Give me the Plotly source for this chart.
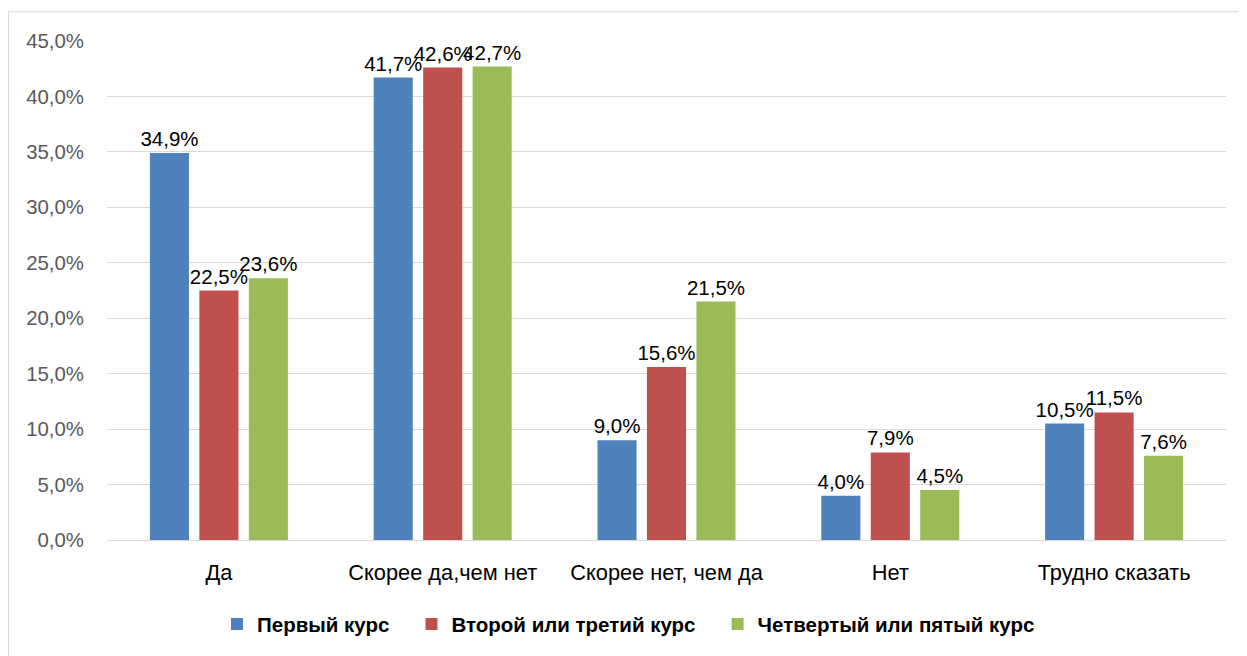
import plotly.graph_objects as go

categories = ["Да", "Скорее да,чем нет", "Скорее нет, чем да", "Нет", "Трудно сказать"]
series_names = ["Первый курс", "Второй или третий курс", "Четвертый или пятый курс"]
first_course = [34.9, 41.7, 9.0, 4.0, 10.5]
second_third = [22.5, 42.6, 15.6, 7.9, 11.5]
fourth_fifth = [23.6, 42.7, 21.5, 4.5, 7.6]
colors = ["#4F81BD", "#C0504D", "#9BBB59"]
y_ticks = [0, 5, 10, 15, 20, 25, 30, 35, 40, 45]

PAD = "\u00a0\u00a0\u00a0"  # spacing after legend entries

fig = go.Figure()
for name, vals, col in zip(series_names, [first_course, second_third, fourth_fifth], colors):
    fig.add_trace(go.Bar(
        x=categories, y=vals, name=name + PAD, marker_color=col, marker_line_width=0,
        text=[f"{v:.1f}%".replace(".", ",") for v in vals],
        textposition="outside", constraintext="none", cliponaxis=False,
        textfont=dict(family="Liberation Sans, Arial", size=20.5, color="#000000"),
    ))

# page has an 8px body margin; work in reference pixel coords minus 8
OFF = 8
W, H = 1247 - OFF, 656 - OFF
L = 107 - OFF
T = 41 - OFF
R = W - (1226 - OFF)
B = H - (542 - OFF) - 3
pw = W - L - R
ph = H - T - B

def px_x(p):
    return (p - OFF - L) / pw

def px_y(p):
    return (H - B - (p - OFF)) / ph

fig.add_shape(type="rect", xref="paper", yref="paper",
              x0=px_x(8.5), x1=px_x(1300), y0=px_y(700), y1=px_y(11.5),
              line=dict(color="#D9D9D9", width=1), fillcolor="rgba(0,0,0,0)", layer="below")

fig.update_layout(
    width=W, height=H,
    margin=dict(l=L, r=R, t=T, b=B),
    paper_bgcolor="white", plot_bgcolor="white",
    barmode="group", bargap=0.337, bargroupgap=0.21,
    separators=", ",
    showlegend=True,
    legend=dict(orientation="h", x=px_x(217), xanchor="left", y=px_y(630), yanchor="middle",
                font=dict(family="Liberation Sans", size=20.5, color="#000000", weight="bold"),
                itemsizing="constant"),
    font=dict(family="Liberation Sans, Arial", color="#595959"),
    xaxis=dict(showgrid=False, showline=False, ticks="", zeroline=False,
               tickfont=dict(family="Liberation Sans, Arial", size=21.8, color="#000000"),
               ticklabelstandoff=17),
    yaxis=dict(range=[0, 45], tickvals=y_ticks, ticktext=[f"{v:.1f}%".replace(".", ",") for v in y_ticks],
               showgrid=True, gridcolor="#D9D9D9", gridwidth=1.3, zeroline=True, zerolinecolor="#D9D9D9",
               zerolinewidth=1.3, showline=False, ticks="",
               tickfont=dict(family="Liberation Sans, Arial", size=20.4, color="#595959"),
               ticklabelstandoff=22),
)

fig.write_html("out.html")
